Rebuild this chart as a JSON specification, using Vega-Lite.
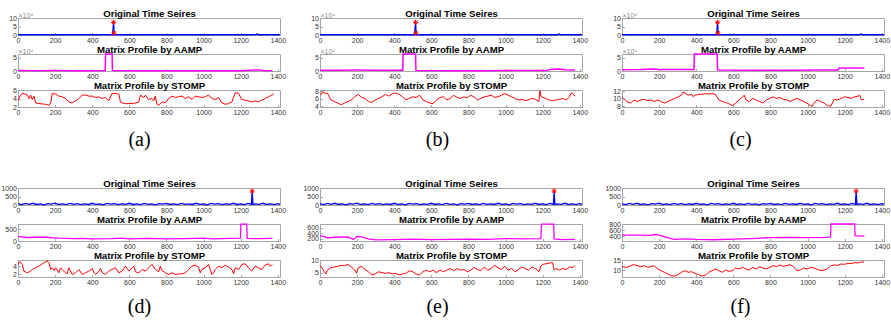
{
"$schema": "https://vega.github.io/schema/vega-lite/v6.json",
"background": "white",
"padding": {"left": 0, "top": 8, "right": 0, "bottom": 0},
"config": {
  "view": {"stroke": "#a6a6a6", "strokeWidth": 1},
  "axis": {"grid": false, "domainColor": "#a6a6a6", "tickColor": "#a6a6a6", "labelColor": "#333333", "labelFont": "Liberation Sans", "labelFontSize": 7, "tickSize": -2.5, "labelPadding": 4, "labelOverlap": false, "labelBound": false,
           "titleFont": "Liberation Sans", "titleFontSize": 9.6, "titleFontWeight": "bold", "titleColor": "#000000", "titleBaseline": "alphabetic", "titleAlign": "center"},
  "axisX": {"labelFlush": false}
},
"datasets": {
  "o1": [{"x":0,"y":1800},{"x":40,"y":1200},{"x":80,"y":2000},{"x":120,"y":1000},{"x":160,"y":1600},{"x":200,"y":2200},{"x":240,"y":1300},{"x":280,"y":1700},{"x":320,"y":1100},{"x":360,"y":1900},{"x":400,"y":1400},{"x":440,"y":1200},{"x":480,"y":1800},{"x":511,"y":1500},{"x":515,"y":75000},{"x":517,"y":12000},{"x":521,"y":1200},{"x":560,"y":1600},{"x":600,"y":1000},{"x":640,"y":1500},{"x":680,"y":2100},{"x":720,"y":1300},{"x":760,"y":1700},{"x":800,"y":1000},{"x":840,"y":1400},{"x":880,"y":1900},{"x":920,"y":1200},{"x":960,"y":1600},{"x":1000,"y":1100},{"x":1040,"y":1800},{"x":1080,"y":1300},{"x":1120,"y":1500},{"x":1160,"y":2000},{"x":1200,"y":1200},{"x":1240,"y":1700},{"x":1280,"y":1500},{"x":1290,"y":5000},{"x":1296,"y":1600},{"x":1330,"y":1200},{"x":1370,"y":1800},{"x":1412,"y":1300}],
  "s1": [{"x":515,"y":75000},{"x":517,"y":12000}],
  "o2": [{"x":0,"y":60},{"x":20,"y":20},{"x":40,"y":90},{"x":60,"y":40},{"x":80,"y":100},{"x":100,"y":30},{"x":120,"y":70},{"x":140,"y":10},{"x":160,"y":80},{"x":180,"y":50},{"x":200,"y":110},{"x":220,"y":30},{"x":240,"y":60},{"x":260,"y":20},{"x":280,"y":90},{"x":300,"y":40},{"x":320,"y":80},{"x":340,"y":20},{"x":360,"y":70},{"x":380,"y":30},{"x":400,"y":100},{"x":420,"y":40},{"x":440,"y":60},{"x":460,"y":10},{"x":480,"y":90},{"x":500,"y":50},{"x":520,"y":80},{"x":540,"y":20},{"x":560,"y":70},{"x":580,"y":40},{"x":600,"y":100},{"x":620,"y":30},{"x":640,"y":60},{"x":660,"y":20},{"x":680,"y":90},{"x":700,"y":40},{"x":720,"y":70},{"x":740,"y":10},{"x":760,"y":80},{"x":780,"y":50},{"x":800,"y":100},{"x":820,"y":30},{"x":840,"y":60},{"x":860,"y":20},{"x":880,"y":90},{"x":900,"y":40},{"x":920,"y":70},{"x":940,"y":30},{"x":960,"y":100},{"x":980,"y":40},{"x":1000,"y":60},{"x":1020,"y":10},{"x":1040,"y":90},{"x":1060,"y":50},{"x":1080,"y":80},{"x":1100,"y":20},{"x":1120,"y":70},{"x":1140,"y":40},{"x":1160,"y":100},{"x":1180,"y":30},{"x":1200,"y":60},{"x":1220,"y":20},{"x":1240,"y":90},{"x":1258,"y":40},{"x":1262,"y":820},{"x":1266,"y":30},{"x":1280,"y":70},{"x":1300,"y":40},{"x":1320,"y":100},{"x":1340,"y":30},{"x":1360,"y":60},{"x":1380,"y":20},{"x":1400,"y":80},{"x":1412,"y":40}],
  "s2": [{"x":1262,"y":820}],
  "aa": [{"x":0,"y":1500},{"x":100,"y":1200},{"x":200,"y":1800},{"x":300,"y":1000},{"x":400,"y":1200},{"x":470,"y":1500},{"x":472,"y":63000},{"x":507,"y":63000},{"x":509,"y":1500},{"x":600,"y":1000},{"x":800,"y":800},{"x":1000,"y":900},{"x":1200,"y":1200},{"x":1250,"y":3000},{"x":1280,"y":4000},{"x":1300,"y":3500},{"x":1320,"y":1500},{"x":1371,"y":1200}],
  "ab": [{"x":0,"y":3000},{"x":100,"y":3000},{"x":200,"y":3500},{"x":300,"y":3000},{"x":446,"y":3000},{"x":448,"y":63000},{"x":515,"y":63000},{"x":517,"y":1500},{"x":700,"y":1200},{"x":900,"y":1300},{"x":1100,"y":1500},{"x":1220,"y":2000},{"x":1240,"y":6000},{"x":1290,"y":7000},{"x":1320,"y":5000},{"x":1375,"y":3500}],
  "ac": [{"x":0,"y":5000},{"x":100,"y":5500},{"x":170,"y":7000},{"x":200,"y":6000},{"x":388,"y":6000},{"x":390,"y":63000},{"x":513,"y":63000},{"x":515,"y":3500},{"x":700,"y":3000},{"x":900,"y":3000},{"x":1100,"y":3500},{"x":1165,"y":4000},{"x":1170,"y":11000},{"x":1300,"y":11000},{"x":1306,"y":9000}],
  "ad": [{"x":0,"y":190},{"x":20,"y":180},{"x":50,"y":150},{"x":100,"y":160},{"x":150,"y":170},{"x":180,"y":140},{"x":220,"y":120},{"x":300,"y":100},{"x":350,"y":110},{"x":400,"y":90},{"x":500,"y":100},{"x":560,"y":120},{"x":600,"y":90},{"x":700,"y":110},{"x":800,"y":90},{"x":900,"y":100},{"x":1000,"y":120},{"x":1050,"y":90},{"x":1150,"y":110},{"x":1199,"y":120},{"x":1201,"y":725},{"x":1233,"y":725},{"x":1235,"y":110},{"x":1300,"y":100},{"x":1371,"y":110}],
  "ae": [{"x":0,"y":300},{"x":20,"y":280},{"x":40,"y":230},{"x":80,"y":250},{"x":150,"y":260},{"x":180,"y":170},{"x":200,"y":280},{"x":220,"y":270},{"x":260,"y":190},{"x":300,"y":150},{"x":400,"y":160},{"x":500,"y":180},{"x":600,"y":160},{"x":700,"y":170},{"x":800,"y":180},{"x":900,"y":170},{"x":1000,"y":200},{"x":1100,"y":190},{"x":1190,"y":200},{"x":1194,"y":740},{"x":1259,"y":740},{"x":1262,"y":190},{"x":1300,"y":160},{"x":1375,"y":170}],
  "af": [{"x":0,"y":440},{"x":100,"y":440},{"x":150,"y":430},{"x":180,"y":460},{"x":200,"y":440},{"x":250,"y":350},{"x":280,"y":300},{"x":350,"y":320},{"x":400,"y":300},{"x":500,"y":290},{"x":600,"y":310},{"x":700,"y":330},{"x":800,"y":360},{"x":900,"y":370},{"x":1000,"y":360},{"x":1100,"y":370},{"x":1124,"y":380},{"x":1126,"y":800},{"x":1254,"y":800},{"x":1256,"y":420},{"x":1306,"y":410}],
  "sa": [{"x":0,"y":3.6},{"x":14,"y":4.8},{"x":27,"y":5.2},{"x":50,"y":4.8},{"x":59,"y":4.0},{"x":68,"y":4.8},{"x":77,"y":3.76},{"x":86,"y":4.56},{"x":95,"y":2.96},{"x":113,"y":2.8},{"x":149,"y":2.64},{"x":167,"y":2.4},{"x":176,"y":2.96},{"x":185,"y":5.2},{"x":203,"y":5.04},{"x":220,"y":4.56},{"x":238,"y":4.4},{"x":256,"y":4.0},{"x":274,"y":3.2},{"x":292,"y":2.96},{"x":310,"y":3.44},{"x":328,"y":4.0},{"x":346,"y":4.8},{"x":364,"y":4.8},{"x":382,"y":4.56},{"x":400,"y":4.56},{"x":418,"y":4.24},{"x":436,"y":4.4},{"x":454,"y":4.0},{"x":471,"y":4.24},{"x":489,"y":3.44},{"x":507,"y":5.2},{"x":525,"y":5.2},{"x":543,"y":5.04},{"x":552,"y":3.2},{"x":561,"y":2.96},{"x":579,"y":2.8},{"x":615,"y":2.8},{"x":633,"y":2.96},{"x":651,"y":3.2},{"x":660,"y":4.8},{"x":678,"y":4.24},{"x":687,"y":4.8},{"x":704,"y":3.76},{"x":722,"y":4.0},{"x":731,"y":3.44},{"x":740,"y":4.56},{"x":749,"y":2.64},{"x":758,"y":2.4},{"x":776,"y":3.2},{"x":794,"y":2.96},{"x":812,"y":4.0},{"x":830,"y":4.56},{"x":848,"y":4.24},{"x":866,"y":4.4},{"x":884,"y":4.56},{"x":902,"y":4.0},{"x":920,"y":4.4},{"x":938,"y":3.76},{"x":955,"y":4.56},{"x":973,"y":4.4},{"x":991,"y":4.24},{"x":1009,"y":4.4},{"x":1027,"y":4.8},{"x":1045,"y":4.0},{"x":1063,"y":3.76},{"x":1081,"y":4.24},{"x":1099,"y":2.96},{"x":1117,"y":2.64},{"x":1135,"y":2.8},{"x":1153,"y":3.2},{"x":1171,"y":5.36},{"x":1189,"y":5.2},{"x":1206,"y":3.76},{"x":1224,"y":3.6},{"x":1242,"y":3.44},{"x":1260,"y":3.2},{"x":1278,"y":3.44},{"x":1296,"y":3.2},{"x":1314,"y":3.6},{"x":1332,"y":4.0},{"x":1350,"y":4.4},{"x":1368,"y":4.8},{"x":1378,"y":5.04}],
  "sb": [{"x":4,"y":6.92},{"x":13,"y":7.75},{"x":31,"y":7.33},{"x":40,"y":7.5},{"x":50,"y":6.5},{"x":59,"y":5.67},{"x":77,"y":5.25},{"x":96,"y":4.83},{"x":114,"y":4.42},{"x":132,"y":4.83},{"x":151,"y":5.25},{"x":169,"y":5.67},{"x":187,"y":6.5},{"x":206,"y":7.17},{"x":224,"y":6.33},{"x":243,"y":6.08},{"x":261,"y":5.25},{"x":279,"y":5.0},{"x":298,"y":5.67},{"x":316,"y":6.08},{"x":334,"y":6.5},{"x":353,"y":7.17},{"x":371,"y":6.67},{"x":390,"y":7.33},{"x":408,"y":7.5},{"x":426,"y":7.17},{"x":445,"y":6.5},{"x":463,"y":5.67},{"x":481,"y":6.08},{"x":500,"y":6.5},{"x":518,"y":6.33},{"x":537,"y":6.92},{"x":555,"y":5.67},{"x":573,"y":5.25},{"x":592,"y":4.83},{"x":610,"y":4.67},{"x":628,"y":5.67},{"x":647,"y":6.33},{"x":665,"y":6.5},{"x":683,"y":5.67},{"x":702,"y":6.08},{"x":720,"y":6.92},{"x":739,"y":6.33},{"x":757,"y":6.08},{"x":775,"y":6.5},{"x":794,"y":6.25},{"x":812,"y":6.92},{"x":830,"y":6.5},{"x":849,"y":5.67},{"x":867,"y":6.08},{"x":886,"y":6.5},{"x":904,"y":6.67},{"x":922,"y":6.92},{"x":941,"y":6.33},{"x":959,"y":6.5},{"x":977,"y":6.92},{"x":996,"y":7.33},{"x":1014,"y":6.92},{"x":1033,"y":6.5},{"x":1051,"y":6.08},{"x":1069,"y":5.67},{"x":1088,"y":5.83},{"x":1106,"y":5.5},{"x":1124,"y":5.67},{"x":1143,"y":6.08},{"x":1161,"y":5.83},{"x":1180,"y":5.25},{"x":1185,"y":8.17},{"x":1192,"y":6.5},{"x":1216,"y":6.08},{"x":1235,"y":5.67},{"x":1253,"y":5.5},{"x":1271,"y":5.67},{"x":1290,"y":5.83},{"x":1308,"y":6.08},{"x":1327,"y":5.67},{"x":1345,"y":6.5},{"x":1354,"y":7.5},{"x":1363,"y":7.33},{"x":1374,"y":6.67}],
  "sc": [{"x":0,"y":10.33},{"x":9,"y":10.08},{"x":18,"y":9.67},{"x":27,"y":9.25},{"x":46,"y":8.83},{"x":64,"y":9.67},{"x":82,"y":9.25},{"x":101,"y":9.67},{"x":119,"y":9.83},{"x":137,"y":9.5},{"x":156,"y":9.67},{"x":174,"y":9.25},{"x":192,"y":9.67},{"x":210,"y":9.25},{"x":229,"y":8.83},{"x":247,"y":9.25},{"x":265,"y":9.67},{"x":284,"y":10.08},{"x":302,"y":10.5},{"x":320,"y":10.92},{"x":329,"y":11.75},{"x":339,"y":11.5},{"x":357,"y":10.92},{"x":375,"y":11.17},{"x":384,"y":10.5},{"x":393,"y":10.92},{"x":412,"y":11.08},{"x":430,"y":11.17},{"x":448,"y":11.33},{"x":467,"y":11.25},{"x":485,"y":11.33},{"x":503,"y":11.17},{"x":512,"y":10.5},{"x":522,"y":9.67},{"x":540,"y":9.25},{"x":558,"y":9.0},{"x":576,"y":8.67},{"x":595,"y":8.17},{"x":613,"y":8.83},{"x":631,"y":9.67},{"x":650,"y":10.5},{"x":659,"y":10.92},{"x":668,"y":9.67},{"x":686,"y":9.25},{"x":705,"y":10.08},{"x":723,"y":9.67},{"x":741,"y":9.25},{"x":759,"y":8.83},{"x":778,"y":9.67},{"x":796,"y":10.08},{"x":814,"y":10.5},{"x":833,"y":10.08},{"x":851,"y":10.33},{"x":869,"y":9.83},{"x":888,"y":9.67},{"x":906,"y":9.25},{"x":924,"y":9.67},{"x":942,"y":10.08},{"x":961,"y":9.67},{"x":979,"y":9.25},{"x":997,"y":8.83},{"x":1016,"y":8.17},{"x":1025,"y":8.0},{"x":1034,"y":8.83},{"x":1052,"y":9.67},{"x":1071,"y":9.25},{"x":1089,"y":8.83},{"x":1107,"y":8.17},{"x":1125,"y":8.0},{"x":1144,"y":9.83},{"x":1162,"y":9.67},{"x":1180,"y":10.08},{"x":1199,"y":10.5},{"x":1217,"y":10.33},{"x":1235,"y":10.08},{"x":1254,"y":10.5},{"x":1272,"y":10.67},{"x":1281,"y":10.92},{"x":1290,"y":9.67},{"x":1305,"y":9.92}],
  "sd": [{"x":0,"y":4.4},{"x":9,"y":5.04},{"x":23,"y":4.4},{"x":32,"y":2.8},{"x":50,"y":2.4},{"x":68,"y":2.8},{"x":77,"y":3.2},{"x":95,"y":3.6},{"x":113,"y":4.0},{"x":131,"y":4.56},{"x":149,"y":5.04},{"x":158,"y":5.2},{"x":167,"y":4.8},{"x":176,"y":3.2},{"x":185,"y":3.6},{"x":194,"y":2.96},{"x":203,"y":3.6},{"x":220,"y":2.4},{"x":229,"y":3.6},{"x":238,"y":3.2},{"x":256,"y":2.4},{"x":265,"y":2.16},{"x":274,"y":3.6},{"x":292,"y":2.0},{"x":310,"y":2.4},{"x":328,"y":3.2},{"x":346,"y":2.0},{"x":364,"y":2.4},{"x":382,"y":2.8},{"x":400,"y":3.44},{"x":409,"y":2.4},{"x":418,"y":2.0},{"x":436,"y":2.8},{"x":445,"y":3.44},{"x":454,"y":2.4},{"x":471,"y":2.0},{"x":489,"y":2.8},{"x":507,"y":3.2},{"x":525,"y":3.6},{"x":543,"y":2.4},{"x":561,"y":2.8},{"x":579,"y":4.0},{"x":588,"y":3.44},{"x":597,"y":2.8},{"x":615,"y":3.6},{"x":624,"y":4.0},{"x":633,"y":2.64},{"x":651,"y":2.4},{"x":669,"y":3.2},{"x":687,"y":2.8},{"x":704,"y":3.6},{"x":722,"y":4.4},{"x":740,"y":3.2},{"x":758,"y":2.64},{"x":767,"y":4.0},{"x":776,"y":2.96},{"x":794,"y":2.4},{"x":812,"y":2.0},{"x":830,"y":2.4},{"x":848,"y":2.0},{"x":866,"y":2.16},{"x":884,"y":2.16},{"x":902,"y":2.4},{"x":920,"y":3.2},{"x":938,"y":4.0},{"x":955,"y":4.24},{"x":973,"y":3.76},{"x":982,"y":2.4},{"x":991,"y":3.2},{"x":1009,"y":3.6},{"x":1027,"y":4.4},{"x":1045,"y":2.0},{"x":1054,"y":2.4},{"x":1063,"y":3.2},{"x":1081,"y":4.0},{"x":1099,"y":3.6},{"x":1117,"y":4.24},{"x":1135,"y":3.76},{"x":1153,"y":3.2},{"x":1162,"y":2.16},{"x":1171,"y":3.6},{"x":1189,"y":3.2},{"x":1206,"y":4.4},{"x":1224,"y":4.56},{"x":1242,"y":3.6},{"x":1260,"y":2.8},{"x":1278,"y":4.0},{"x":1296,"y":3.6},{"x":1314,"y":3.2},{"x":1332,"y":4.24},{"x":1350,"y":4.56},{"x":1359,"y":4.0},{"x":1371,"y":4.4}],
  "se": [{"x":0,"y":7.88},{"x":13,"y":6.63},{"x":31,"y":4.5},{"x":40,"y":6.0},{"x":59,"y":7.0},{"x":77,"y":7.25},{"x":96,"y":7.5},{"x":114,"y":7.88},{"x":132,"y":7.75},{"x":151,"y":8.25},{"x":169,"y":7.25},{"x":187,"y":6.0},{"x":197,"y":4.75},{"x":206,"y":7.0},{"x":224,"y":7.5},{"x":243,"y":6.25},{"x":261,"y":5.38},{"x":279,"y":4.13},{"x":298,"y":4.5},{"x":316,"y":5.38},{"x":334,"y":5.0},{"x":353,"y":4.75},{"x":371,"y":5.0},{"x":390,"y":4.5},{"x":408,"y":4.75},{"x":426,"y":4.13},{"x":445,"y":4.5},{"x":463,"y":4.75},{"x":481,"y":5.75},{"x":500,"y":5.38},{"x":518,"y":4.5},{"x":537,"y":4.13},{"x":555,"y":5.38},{"x":573,"y":6.0},{"x":592,"y":5.38},{"x":610,"y":6.0},{"x":628,"y":5.0},{"x":647,"y":6.0},{"x":665,"y":5.38},{"x":683,"y":6.0},{"x":702,"y":6.63},{"x":720,"y":5.75},{"x":739,"y":6.63},{"x":757,"y":6.0},{"x":775,"y":6.25},{"x":794,"y":5.38},{"x":812,"y":6.0},{"x":830,"y":7.0},{"x":849,"y":6.25},{"x":867,"y":5.75},{"x":886,"y":7.25},{"x":904,"y":6.0},{"x":922,"y":6.63},{"x":941,"y":7.88},{"x":959,"y":7.0},{"x":977,"y":6.25},{"x":996,"y":7.5},{"x":1014,"y":6.0},{"x":1033,"y":6.63},{"x":1051,"y":5.38},{"x":1069,"y":6.25},{"x":1088,"y":7.25},{"x":1106,"y":6.63},{"x":1124,"y":6.0},{"x":1143,"y":7.25},{"x":1161,"y":6.63},{"x":1180,"y":5.38},{"x":1189,"y":7.25},{"x":1198,"y":8.25},{"x":1216,"y":8.5},{"x":1235,"y":8.75},{"x":1253,"y":9.0},{"x":1262,"y":6.0},{"x":1271,"y":6.63},{"x":1290,"y":6.0},{"x":1308,"y":6.63},{"x":1327,"y":6.25},{"x":1345,"y":7.25},{"x":1363,"y":7.0},{"x":1374,"y":7.88}],
  "sf": [{"x":0,"y":11.67},{"x":27,"y":11.33},{"x":46,"y":12.17},{"x":64,"y":12.67},{"x":82,"y":12.17},{"x":101,"y":11.67},{"x":119,"y":12.17},{"x":137,"y":11.33},{"x":156,"y":11.67},{"x":174,"y":12.17},{"x":192,"y":10.5},{"x":210,"y":9.67},{"x":229,"y":8.83},{"x":247,"y":8.0},{"x":265,"y":7.17},{"x":284,"y":7.0},{"x":302,"y":7.67},{"x":320,"y":8.83},{"x":339,"y":9.67},{"x":357,"y":8.83},{"x":375,"y":9.17},{"x":393,"y":8.33},{"x":412,"y":7.67},{"x":430,"y":7.0},{"x":448,"y":7.33},{"x":467,"y":8.83},{"x":485,"y":9.67},{"x":503,"y":10.5},{"x":522,"y":9.67},{"x":540,"y":8.83},{"x":558,"y":10.0},{"x":576,"y":9.33},{"x":595,"y":9.67},{"x":613,"y":11.0},{"x":631,"y":10.5},{"x":650,"y":11.33},{"x":668,"y":10.5},{"x":686,"y":10.0},{"x":705,"y":11.33},{"x":723,"y":10.5},{"x":741,"y":11.67},{"x":759,"y":11.0},{"x":778,"y":10.5},{"x":796,"y":11.33},{"x":814,"y":12.17},{"x":833,"y":11.67},{"x":851,"y":12.5},{"x":869,"y":11.83},{"x":888,"y":12.17},{"x":906,"y":12.67},{"x":924,"y":11.67},{"x":942,"y":9.67},{"x":961,"y":10.0},{"x":979,"y":11.0},{"x":997,"y":10.5},{"x":1016,"y":11.33},{"x":1034,"y":11.0},{"x":1052,"y":10.33},{"x":1071,"y":9.67},{"x":1089,"y":10.0},{"x":1107,"y":10.5},{"x":1125,"y":12.17},{"x":1144,"y":12.5},{"x":1162,"y":12.33},{"x":1180,"y":13.0},{"x":1199,"y":12.83},{"x":1217,"y":13.33},{"x":1235,"y":13.17},{"x":1254,"y":13.67},{"x":1272,"y":13.5},{"x":1290,"y":14.0},{"x":1305,"y":14.0}]
},
"columns": 3,
"spacing": {"row": 19, "column": 40},
"bounds": "flush",
"concat": [
    {"width":262,"height":17,
     "encoding":{"x":{"field":"x","type":"quantitative","scale":{"domain":[0,1412],"nice":false},"axis":{"values":[0,200,400,600,800,1000,1200,1400],"format":"d","title":"Original Time Seires","titleX":131,"titleY":-18.3}},
                 "y":{"field":"y","type":"quantitative","scale":{"domain":[0,100000],"nice":false},"axis":{"values":[0,50000,100000],"labelExpr":"datum.value/10000","title":"×10⁴","titleAngle":0,"titleX":0,"titleY":-1,"titleAlign":"left","titleBaseline":"alphabetic","titleFont":"Liberation Sans","titleFontSize":7,"titleFontWeight":"normal","titleColor":"#8c8c8c"}}},
     "layer":[{"data":{"name":"o1"},"mark":{"type":"line","color":"#0000ff","strokeWidth":1.5}},
              {"data":{"name":"s1"},"mark":{"type":"point","shape":"M0,-1L0,1M-1,0L1,0M-0.7,-0.7L0.7,0.7M-0.7,0.7L0.7,-0.7","filled":false,"color":"#ff0000","size":25,"strokeWidth":1,"opacity":1}}]},
    {"width":262,"height":17,
     "encoding":{"x":{"field":"x","type":"quantitative","scale":{"domain":[0,1412],"nice":false},"axis":{"values":[0,200,400,600,800,1000,1200,1400],"format":"d","title":"Original Time Seires","titleX":131,"titleY":-18.3}},
                 "y":{"field":"y","type":"quantitative","scale":{"domain":[0,100000],"nice":false},"axis":{"values":[0,50000,100000],"labelExpr":"datum.value/10000","title":"×10⁴","titleAngle":0,"titleX":0,"titleY":-1,"titleAlign":"left","titleBaseline":"alphabetic","titleFont":"Liberation Sans","titleFontSize":7,"titleFontWeight":"normal","titleColor":"#8c8c8c"}}},
     "layer":[{"data":{"name":"o1"},"mark":{"type":"line","color":"#0000ff","strokeWidth":1.5}},
              {"data":{"name":"s1"},"mark":{"type":"point","shape":"M0,-1L0,1M-1,0L1,0M-0.7,-0.7L0.7,0.7M-0.7,0.7L0.7,-0.7","filled":false,"color":"#ff0000","size":25,"strokeWidth":1,"opacity":1}}]},
    {"width":262,"height":17,
     "encoding":{"x":{"field":"x","type":"quantitative","scale":{"domain":[0,1412],"nice":false},"axis":{"values":[0,200,400,600,800,1000,1200,1400],"format":"d","title":"Original Time Seires","titleX":131,"titleY":-18.3}},
                 "y":{"field":"y","type":"quantitative","scale":{"domain":[0,100000],"nice":false},"axis":{"values":[0,50000,100000],"labelExpr":"datum.value/10000","title":"×10⁴","titleAngle":0,"titleX":0,"titleY":-1,"titleAlign":"left","titleBaseline":"alphabetic","titleFont":"Liberation Sans","titleFontSize":7,"titleFontWeight":"normal","titleColor":"#8c8c8c"}}},
     "layer":[{"data":{"name":"o1"},"mark":{"type":"line","color":"#0000ff","strokeWidth":1.5}},
              {"data":{"name":"s1"},"mark":{"type":"point","shape":"M0,-1L0,1M-1,0L1,0M-0.7,-0.7L0.7,0.7M-0.7,0.7L0.7,-0.7","filled":false,"color":"#ff0000","size":25,"strokeWidth":1,"opacity":1}}]},
    {"width":262,"height":17,"data":{"name":"aa"},"mark":{"type":"line","color":"#ff00ff","strokeWidth":1.5},
     "encoding":{"x":{"field":"x","type":"quantitative","scale":{"domain":[0,1412],"nice":false},"axis":{"values":[0,200,400,600,800,1000,1200,1400],"format":"d","title":"Matrix Profile by AAMP","titleX":131,"titleY":-18.3}},
                 "y":{"field":"y","type":"quantitative","scale":{"domain":[0,63000],"nice":false},"axis":{"values":[0,50000],"labelExpr":"datum.value/10000","title":"×10⁴","titleAngle":0,"titleX":0,"titleY":-1,"titleAlign":"left","titleBaseline":"alphabetic","titleFont":"Liberation Sans","titleFontSize":7,"titleFontWeight":"normal","titleColor":"#8c8c8c"}}}},
    {"width":262,"height":17,"data":{"name":"ab"},"mark":{"type":"line","color":"#ff00ff","strokeWidth":1.5},
     "encoding":{"x":{"field":"x","type":"quantitative","scale":{"domain":[0,1412],"nice":false},"axis":{"values":[0,200,400,600,800,1000,1200,1400],"format":"d","title":"Matrix Profile by AAMP","titleX":131,"titleY":-18.3}},
                 "y":{"field":"y","type":"quantitative","scale":{"domain":[0,63000],"nice":false},"axis":{"values":[0,50000],"labelExpr":"datum.value/10000","title":"×10⁴","titleAngle":0,"titleX":0,"titleY":-1,"titleAlign":"left","titleBaseline":"alphabetic","titleFont":"Liberation Sans","titleFontSize":7,"titleFontWeight":"normal","titleColor":"#8c8c8c"}}}},
    {"width":262,"height":17,"data":{"name":"ac"},"mark":{"type":"line","color":"#ff00ff","strokeWidth":1.5},
     "encoding":{"x":{"field":"x","type":"quantitative","scale":{"domain":[0,1412],"nice":false},"axis":{"values":[0,200,400,600,800,1000,1200,1400],"format":"d","title":"Matrix Profile by AAMP","titleX":131,"titleY":-18.3}},
                 "y":{"field":"y","type":"quantitative","scale":{"domain":[0,63000],"nice":false},"axis":{"values":[0,50000],"labelExpr":"datum.value/10000","title":"×10⁴","titleAngle":0,"titleX":0,"titleY":-1,"titleAlign":"left","titleBaseline":"alphabetic","titleFont":"Liberation Sans","titleFontSize":7,"titleFontWeight":"normal","titleColor":"#8c8c8c"}}}},
    {"width":262,"height":17,"data":{"name":"sa"},"mark":{"type":"line","color":"#ff0000","strokeWidth":1},
     "encoding":{"x":{"field":"x","type":"quantitative","scale":{"domain":[0,1412],"nice":false},"axis":{"values":[0,200,400,600,800,1000,1200,1400],"format":"d","title":"(a)","titleFont":"Liberation Serif","titleFontSize":20,"titleFontWeight":"normal","titleX":121,"titleY":38}},
                 "y":{"field":"y","type":"quantitative","scale":{"domain":[2,6],"nice":false,"zero":false},"axis":{"values":[2,4,6],"title":"Matrix Profile by STOMP","titleAngle":0,"titleX":131,"titleY":-1.3}}}},
    {"width":262,"height":17,"data":{"name":"sb"},"mark":{"type":"line","color":"#ff0000","strokeWidth":1},
     "encoding":{"x":{"field":"x","type":"quantitative","scale":{"domain":[0,1412],"nice":false},"axis":{"values":[0,200,400,600,800,1000,1200,1400],"format":"d","title":"(b)","titleFont":"Liberation Serif","titleFontSize":20,"titleFontWeight":"normal","titleX":117,"titleY":38}},
                 "y":{"field":"y","type":"quantitative","scale":{"domain":[3.8,8.3],"nice":false,"zero":false},"axis":{"values":[4,6,8],"title":"Matrix Profile by STOMP","titleAngle":0,"titleX":131,"titleY":-1.3}}}},
    {"width":262,"height":17,"data":{"name":"sc"},"mark":{"type":"line","color":"#ff0000","strokeWidth":1},
     "encoding":{"x":{"field":"x","type":"quantitative","scale":{"domain":[0,1412],"nice":false},"axis":{"values":[0,200,400,600,800,1000,1200,1400],"format":"d","title":"(c)","titleFont":"Liberation Serif","titleFontSize":20,"titleFontWeight":"normal","titleX":118,"titleY":38}},
                 "y":{"field":"y","type":"quantitative","scale":{"domain":[7.8,12.3],"nice":false,"zero":false},"axis":{"values":[8,10,12],"title":"Matrix Profile by STOMP","titleAngle":0,"titleX":131,"titleY":-1.3}}}},
    {"width":262,"height":43,"data":{"values":[]},"mark":"point","view":{"stroke":null}},
    {"width":262,"height":43,"data":{"values":[]},"mark":"point","view":{"stroke":null}},
    {"width":262,"height":43,"data":{"values":[]},"mark":"point","view":{"stroke":null}},
    {"width":262,"height":17,
     "encoding":{"x":{"field":"x","type":"quantitative","scale":{"domain":[0,1412],"nice":false},"axis":{"values":[0,200,400,600,800,1000,1200,1400],"format":"d","title":"Original Time Seires","titleX":131,"titleY":-18.3}},
                 "y":{"field":"y","type":"quantitative","scale":{"domain":[0,1000],"nice":false},"axis":{"values":[0,500,1000],"format":"d","title":null}}},
     "layer":[{"data":{"name":"o2"},"mark":{"type":"line","color":"#0000ff","strokeWidth":1.3}},
              {"data":{"name":"s2"},"mark":{"type":"point","shape":"M0,-1L0,1M-1,0L1,0M-0.7,-0.7L0.7,0.7M-0.7,0.7L0.7,-0.7","filled":false,"color":"#ff0000","size":25,"strokeWidth":1,"opacity":1}}]},
    {"width":262,"height":17,
     "encoding":{"x":{"field":"x","type":"quantitative","scale":{"domain":[0,1412],"nice":false},"axis":{"values":[0,200,400,600,800,1000,1200,1400],"format":"d","title":"Original Time Seires","titleX":131,"titleY":-18.3}},
                 "y":{"field":"y","type":"quantitative","scale":{"domain":[0,1000],"nice":false},"axis":{"values":[0,500,1000],"format":"d","title":null}}},
     "layer":[{"data":{"name":"o2"},"mark":{"type":"line","color":"#0000ff","strokeWidth":1.3}},
              {"data":{"name":"s2"},"mark":{"type":"point","shape":"M0,-1L0,1M-1,0L1,0M-0.7,-0.7L0.7,0.7M-0.7,0.7L0.7,-0.7","filled":false,"color":"#ff0000","size":25,"strokeWidth":1,"opacity":1}}]},
    {"width":262,"height":17,
     "encoding":{"x":{"field":"x","type":"quantitative","scale":{"domain":[0,1412],"nice":false},"axis":{"values":[0,200,400,600,800,1000,1200,1400],"format":"d","title":"Original Time Seires","titleX":131,"titleY":-18.3}},
                 "y":{"field":"y","type":"quantitative","scale":{"domain":[0,1000],"nice":false},"axis":{"values":[0,500,1000],"format":"d","title":null}}},
     "layer":[{"data":{"name":"o2"},"mark":{"type":"line","color":"#0000ff","strokeWidth":1.3}},
              {"data":{"name":"s2"},"mark":{"type":"point","shape":"M0,-1L0,1M-1,0L1,0M-0.7,-0.7L0.7,0.7M-0.7,0.7L0.7,-0.7","filled":false,"color":"#ff0000","size":25,"strokeWidth":1,"opacity":1}}]},
    {"width":262,"height":17,"data":{"name":"ad"},"mark":{"type":"line","color":"#ff00ff","strokeWidth":1.3},
     "encoding":{"x":{"field":"x","type":"quantitative","scale":{"domain":[0,1412],"nice":false},"axis":{"values":[0,200,400,600,800,1000,1200,1400],"format":"d","title":"Matrix Profile by AAMP","titleX":131,"titleY":-18.3}},
                 "y":{"field":"y","type":"quantitative","scale":{"domain":[0,730],"nice":false},"axis":{"values":[0,500],"title":null}}}},
    {"width":262,"height":17,"data":{"name":"ae"},"mark":{"type":"line","color":"#ff00ff","strokeWidth":1.3},
     "encoding":{"x":{"field":"x","type":"quantitative","scale":{"domain":[0,1412],"nice":false},"axis":{"values":[0,200,400,600,800,1000,1200,1400],"format":"d","title":"Matrix Profile by AAMP","titleX":131,"titleY":-18.3}},
                 "y":{"field":"y","type":"quantitative","scale":{"domain":[110,745],"nice":false,"zero":false},"axis":{"values":[200,400,600],"title":null}}}},
    {"width":262,"height":17,"data":{"name":"af"},"mark":{"type":"line","color":"#ff00ff","strokeWidth":1.3},
     "encoding":{"x":{"field":"x","type":"quantitative","scale":{"domain":[0,1412],"nice":false},"axis":{"values":[0,200,400,600,800,1000,1200,1400],"format":"d","title":"Matrix Profile by AAMP","titleX":131,"titleY":-18.3}},
                 "y":{"field":"y","type":"quantitative","scale":{"domain":[250,800],"nice":false,"zero":false},"axis":{"values":[400,600,800],"title":null}}}},
    {"width":262,"height":17,"data":{"name":"sd"},"mark":{"type":"line","color":"#ff0000","strokeWidth":1},
     "encoding":{"x":{"field":"x","type":"quantitative","scale":{"domain":[0,1412],"nice":false},"axis":{"values":[0,200,400,600,800,1000,1200,1400],"format":"d","title":"(d)","titleFont":"Liberation Serif","titleFontSize":20,"titleFontWeight":"normal","titleX":121,"titleY":35.5}},
                 "y":{"field":"y","type":"quantitative","scale":{"domain":[1.4,5.45],"nice":false,"zero":false},"axis":{"values":[2,4],"title":"Matrix Profile by STOMP","titleAngle":0,"titleX":131,"titleY":-1.3}}}},
    {"width":262,"height":17,"data":{"name":"se"},"mark":{"type":"line","color":"#ff0000","strokeWidth":1},
     "encoding":{"x":{"field":"x","type":"quantitative","scale":{"domain":[0,1412],"nice":false},"axis":{"values":[0,200,400,600,800,1000,1200,1400],"format":"d","title":"(e)","titleFont":"Liberation Serif","titleFontSize":20,"titleFontWeight":"normal","titleX":117,"titleY":35.5}},
                 "y":{"field":"y","type":"quantitative","scale":{"domain":[3.3,10],"nice":false,"zero":false},"axis":{"values":[5,10],"title":"Matrix Profile by STOMP","titleAngle":0,"titleX":131,"titleY":-1.3}}}},
    {"width":262,"height":17,"data":{"name":"sf"},"mark":{"type":"line","color":"#ff0000","strokeWidth":1},
     "encoding":{"x":{"field":"x","type":"quantitative","scale":{"domain":[0,1412],"nice":false},"axis":{"values":[0,200,400,600,800,1000,1200,1400],"format":"d","title":"(f)","titleFont":"Liberation Serif","titleFontSize":20,"titleFontWeight":"normal","titleX":118,"titleY":35.5}},
                 "y":{"field":"y","type":"quantitative","scale":{"domain":[6.5,15],"nice":false,"zero":false},"axis":{"values":[10,15],"title":"Matrix Profile by STOMP","titleAngle":0,"titleX":131,"titleY":-1.3}}}}
]
}
